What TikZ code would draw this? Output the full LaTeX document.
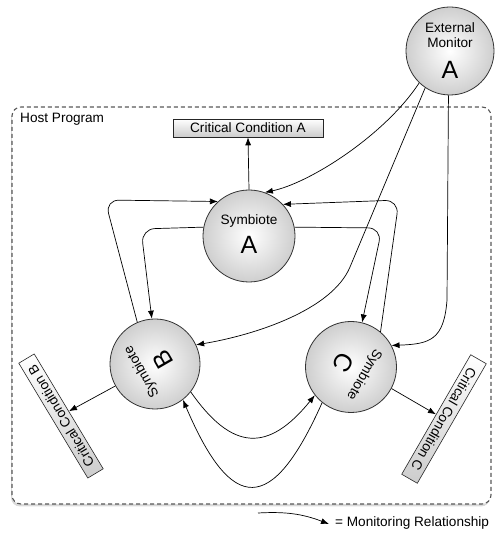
\documentclass[tikz,border=0pt]{standalone}
\usepackage{fontspec}
\setmainfont{Liberation Sans}
\usetikzlibrary{arrows.meta,shadows}

\begin{document}
\begin{tikzpicture}[x=1pt,y=1pt,
  lbl/.style={font=\fontsize{13.6}{15}\selectfont, inner sep=0pt},
  big/.style={font=\fontsize{25}{27}\selectfont, inner sep=0pt},
  orb/.style={circle, draw=black!80, line width=0.8pt, inner sep=0pt,
    shading=radial, inner color=white, outer color=black!19},
  flag/.style={draw=black!85, line width=0.6pt, top color=white, bottom color=black!20,
    minimum height=18pt, inner sep=0pt, font=\fontsize{13.6}{15}\selectfont},
  mon/.style={-{Latex[length=8pt,width=6pt]}, line width=0.7pt, black}
]
\useasboundingbox (0,0) rectangle (497,535);

% host program boundary
\draw[black!65, line width=1.1pt, dash pattern=on 4pt off 3pt, rounded corners=9pt,
  fill=white, drop shadow={shadow xshift=-1pt, shadow yshift=-2.5pt, opacity=0.3}]
  (12,31) rectangle (491,428);
\node[lbl, anchor=west] (host) at (20,416) {Host Program};

% external monitor
\node[orb, minimum size=88pt] (em) at (450,484) {};
\node[lbl] (emt1) at (450,507) {External};
\node[lbl] (emt2) at (450,492) {Monitor};
\node[big] (emt3) at (450,465) {A};

% symbiotes
\node[orb, minimum size=92pt] (sa) at (249,299) {};
\node[lbl] (sat) at (249,314) {Symbiote};
\node[big] (sal) at (249,290) {A};

\node[orb, minimum size=90pt] (sb) at (155,171) {};
\begin{scope}[shift={(155,171)}, rotate=120, transform shape]
  \node[lbl] (sbt) at (0,15) {Symbiote};
  \node[big] (sbl) at (0,-9) {B};
\end{scope}

\node[orb, minimum size=91pt] (sc) at (351,168) {};
\begin{scope}[shift={(351,168)}, rotate=-120, transform shape]
  \node[lbl] (sct) at (0,15) {Symbiote};
  \node[big] (scl) at (0,-9) {C};
\end{scope}

% critical conditions
\node[flag, minimum width=150pt] (cca) at (248,407) {Critical Condition A};
\node[flag, minimum width=134pt, rotate=121] (ccb) at (61,119) {Critical Condition B};
\node[flag, minimum width=138pt, rotate=-120] (ccc) at (444,116) {Critical Condition C};

% symbiote -> critical condition
\draw[mon] (sa.north) -- (cca.south);
\draw[mon] (sb.209) -- (ccb.south);
\draw[mon] (sc.-28) -- (ccc.south);

% external monitor relationships
\draw[mon] (em.226) .. controls (385,400) and (310,352) .. (sa.70);
\draw[mon] (em.236) -- (350,268) .. controls (332,225) and (255,200) .. (sb.25);
\draw[mon] (em.268) -- (447,235) .. controls (444,195) and (430,191) .. (sc.28);

% symbiote loops
\draw[mon, rounded corners=14pt] (sa.169) -- (141,306) -- (sb.94);
\draw[mon, rounded corners=14pt] (sb.113) -- (105,335) -- (sa.132);
\draw[mon, rounded corners=14pt] (sa.11) -- (382,307) -- (sc.76);
\draw[mon, rounded corners=14pt] (sc.50) -- (399,335) -- (sa.43);
\draw[mon] (sb.-38) .. controls (232,84) and (268,82) .. (sc.218);
\draw[mon] (sc.231) .. controls (272,20) and (232,20) .. (sb.-52);

% legend
\coordinate (lg0) at (258,22);
\coordinate (lg1) at (329,11);
\draw[mon] (lg0) to[bend left=12] (lg1);
\node[lbl, anchor=west] (legend) at (335,12) {= Monitoring Relationship};
\end{tikzpicture}
\end{document}
